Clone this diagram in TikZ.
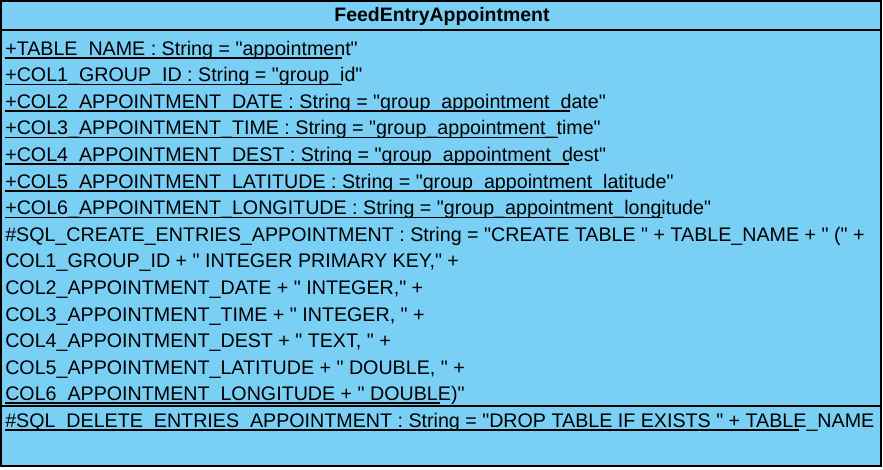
\documentclass[tikz,border=0pt]{standalone}
\usepackage{fontspec}
\setmainfont{Liberation Sans}[Ligatures=TeXOff]
\definecolor{classfill}{HTML}{7ACFF5}
\newcommand{\dqt}{\char34\relax}
\begin{document}
\begin{tikzpicture}[x=0.75pt,y=-0.75pt,
  attr/.style={anchor=base west, inner sep=0pt, font=\fontsize{14.75pt}{17pt}\selectfont},
  ttl/.style={anchor=base, inner sep=0pt, font=\fontsize{14.6pt}{17pt}\selectfont\bfseries},
  ul/.style={line width=1.1pt},
  sep/.style={line width=1.2pt},
  frame/.style={draw=black, line width=1.5pt, fill=classfill}]
\useasboundingbox (0,0) rectangle (883,469);
\fill[white] (0,0) rectangle (883,469);
\draw[frame] (1,1) rectangle (881,466);
\draw[sep] (1,30) -- (881,30);
\draw[sep] (1,406) -- (881,406);
\node[ttl] (title) at (442,21.5) {FeedEntryAppointment};
\node[attr] (a1) at (5,55) {+TABLE\_NAME : String = \dqt appointment\dqt};
\node[attr] (a2) at (5,81.6) {+COL1\_GROUP\_ID : String = \dqt group\_id\dqt};
\node[attr] (a3) at (5,108.2) {+COL2\_APPOINTMENT\_DATE : String = \dqt group\_appointment\_date\dqt};
\node[attr] (a4) at (5,134.8) {+COL3\_APPOINTMENT\_TIME : String = \dqt group\_appointment\_time\dqt};
\node[attr] (a5) at (5,161.4) {+COL4\_APPOINTMENT\_DEST : String = \dqt group\_appointment\_dest\dqt};
\node[attr] (a6) at (5,188) {+COL5\_APPOINTMENT\_LATITUDE : String = \dqt group\_appointment\_latitude\dqt};
\node[attr] (a7) at (5,214.6) {+COL6\_APPOINTMENT\_LONGITUDE : String = \dqt group\_appointment\_longitude\dqt};
\node[attr] (a8) at (5,241.2) {\#SQL\_CREATE\_ENTRIES\_APPOINTMENT : String = \dqt CREATE TABLE \dqt{} + TABLE\_NAME + \dqt{} (\dqt{} +};
\node[attr] (a9) at (5,267.8) {COL1\_GROUP\_ID + \dqt{} INTEGER PRIMARY KEY,\dqt{} +};
\node[attr] (a10) at (5,294.4) {COL2\_APPOINTMENT\_DATE + \dqt{} INTEGER,\dqt{} +};
\node[attr] (a11) at (5,321) {COL3\_APPOINTMENT\_TIME + \dqt{} INTEGER, \dqt{} +};
\node[attr] (a12) at (5,347.6) {COL4\_APPOINTMENT\_DEST + \dqt{} TEXT, \dqt{} +};
\node[attr] (a13) at (5,374.2) {COL5\_APPOINTMENT\_LATITUDE + \dqt{} DOUBLE, \dqt{} +};
\node[attr] (a14) at (5,400.8) {COL6\_APPOINTMENT\_LONGITUDE + \dqt{} DOUBLE)\dqt};
\node[attr] (a15) at (5,427.2) {\#SQL\_DELETE\_ENTRIES\_APPOINTMENT : String = \dqt DROP TABLE IF EXISTS \dqt{} + TABLE\_NAME};
\draw[ul] (5,57.8) -- (342,57.8);
\draw[ul] (5,84.4) -- (342,84.4);
\draw[ul] (5,111) -- (570,111);
\draw[ul] (5,137.6) -- (558,137.6);
\draw[ul] (5,164.2) -- (569,164.2);
\draw[ul] (5,190.8) -- (632,190.8);
\draw[ul] (5,217.4) -- (663,217.4);
\draw[ul] (5,403.2) -- (440,403.2);
\draw[ul] (5,430) -- (799,430);
\end{tikzpicture}
\end{document}
